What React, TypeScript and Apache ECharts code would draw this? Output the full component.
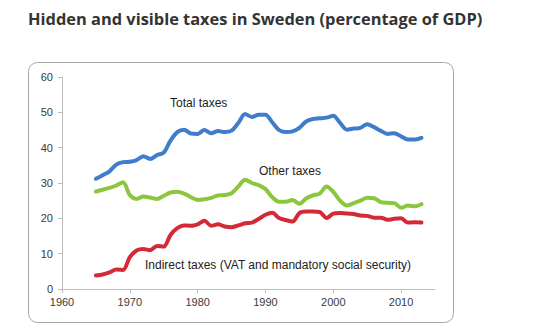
import React, { useEffect, useRef } from "react";
import * as echarts from "echarts";

const years = [1965, 1966, 1967, 1968, 1969, 1970, 1971, 1972, 1973, 1974, 1975, 1976, 1977, 1978, 1979, 1980, 1981, 1982, 1983, 1984, 1985, 1986, 1987, 1988, 1989, 1990, 1991, 1992, 1993, 1994, 1995, 1996, 1997, 1998, 1999, 2000, 2001, 2002, 2003, 2004, 2005, 2006, 2007, 2008, 2009, 2010, 2011, 2012, 2013];

const totalTaxes = [31.2, 32.2, 33.3, 35.2, 35.9, 36.0, 36.5, 37.6, 36.8, 37.9, 38.6, 42.0, 44.4, 45.1, 44.0, 43.9, 45.0, 44.1, 44.7, 44.4, 44.8, 47.0, 49.5, 48.7, 49.3, 49.3, 47.2, 45.0, 44.4, 44.6, 45.6, 47.4, 48.1, 48.3, 48.5, 49.0, 47.0, 45.1, 45.4, 45.6, 46.6, 45.8, 44.8, 43.9, 44.1, 43.2, 42.3, 42.3, 42.8];

const otherTaxes = [27.6, 28.1, 28.6, 29.3, 30.2, 26.6, 25.5, 26.2, 25.9, 25.5, 26.4, 27.3, 27.5, 27.0, 26.0, 25.2, 25.4, 25.8, 26.5, 26.6, 27.1, 29.0, 30.9, 30.0, 29.4, 28.3, 26.0, 24.7, 24.7, 25.2, 24.1, 25.6, 26.5, 27.0, 29.0, 27.5, 25.0, 23.6, 24.3, 25.0, 25.8, 25.7, 24.6, 24.4, 24.3, 23.0, 23.6, 23.4, 24.0];

const indirectTaxes = [3.8, 4.1, 4.7, 5.5, 5.4, 9.0, 10.9, 11.3, 11.0, 12.2, 12.0, 15.3, 17.2, 18.0, 17.9, 18.3, 19.3, 17.9, 18.3, 17.7, 17.5, 18.0, 18.6, 18.8, 19.8, 21.0, 21.6, 20.1, 19.5, 19.1, 21.5, 21.9, 21.9, 21.8, 20.1, 21.3, 21.5, 21.4, 21.2, 20.8, 20.7, 20.2, 20.2, 19.6, 19.9, 20.0, 18.8, 18.9, 18.8];

const xTicks = { min: 1960, max: 2015, interval: 10 };
const yTicks = { min: 0, max: 60, interval: 10 };

const seriesNames = ["Total taxes", "Other taxes", "Indirect taxes (VAT and mandatory social security)"];
const colors = ["#3f7dcc", "#8cc63e", "#d42a36"];

export default function App() {
  const ref = useRef<HTMLDivElement>(null);
  useEffect(() => {
    if (!ref.current) return;
    const chart = echarts.init(ref.current, null, { renderer: "svg" });
    const toPairs = (vals: number[]) => years.map((y, i) => [y, vals[i]]);
    const axisFont = { fontFamily: "Liberation Sans, Arial, sans-serif", fontSize: 11, color: "#3a3a3a" };
    chart.setOption({
      animation: false,
      backgroundColor: "#ffffff",
      title: {
        text: "Hidden and visible taxes in Sweden (percentage of GDP)",
        left: 23,
        top: 5,
        textStyle: { fontFamily: "Open Sans", fontWeight: "bold", fontSize: 16.4, color: "#333333" },
      },
      grid: { left: 62, right: 117, top: 77, bottom: 45 },
      xAxis: {
        type: "value",
        min: xTicks.min,
        max: xTicks.max,
        interval: xTicks.interval,
        axisLine: { show: true, lineStyle: { color: "#bdbdbd", width: 1 } },
        axisTick: { show: true, length: 4, lineStyle: { color: "#bdbdbd" } },
        axisLabel: { ...axisFont, margin: 7, showMaxLabel: false, formatter: (v: number) => String(v) },
        splitLine: { show: false },
      },
      yAxis: {
        type: "value",
        min: yTicks.min,
        max: yTicks.max,
        interval: yTicks.interval,
        axisLine: { show: true, lineStyle: { color: "#bdbdbd", width: 1 } },
        axisTick: { show: true, length: 4, lineStyle: { color: "#bdbdbd" } },
        axisLabel: { ...axisFont, margin: 9 },
        splitLine: { show: false },
      },
      graphic: [
        {
          type: "rect",
          shape: { x: 28.5, y: 62.5, width: 425, height: 260, r: 9 },
          style: { fill: "none", stroke: "#a8a8a8", lineWidth: 1 },
          z: -1,
        },
        {
          type: "text",
          left: 170,
          top: 97,
          style: { text: seriesNames[0], fontFamily: "Liberation Sans, Arial, sans-serif", fontSize: 12, fill: "#222" },
        },
        {
          type: "text",
          left: 259,
          top: 165,
          style: { text: seriesNames[1], fontFamily: "Liberation Sans, Arial, sans-serif", fontSize: 12, fill: "#222" },
        },
        {
          type: "text",
          left: 145,
          top: 259,
          style: { text: seriesNames[2], fontFamily: "Liberation Sans, Arial, sans-serif", fontSize: 12, fill: "#222" },
        },
      ],
      series: [totalTaxes, otherTaxes, indirectTaxes].map((vals, i) => ({
        name: seriesNames[i],
        type: "line",
        data: toPairs(vals),
        smooth: 0.3,
        showSymbol: false,
        symbol: "none",
        lineStyle: { color: colors[i], width: 4, cap: "round", join: "round" },
        itemStyle: { color: colors[i] },
      })),
    });
    return () => chart.dispose();
  }, []);
  return <div ref={ref} style={{ position: "fixed", left: 0, top: 0, width: 552, height: 334 }} />;
}
